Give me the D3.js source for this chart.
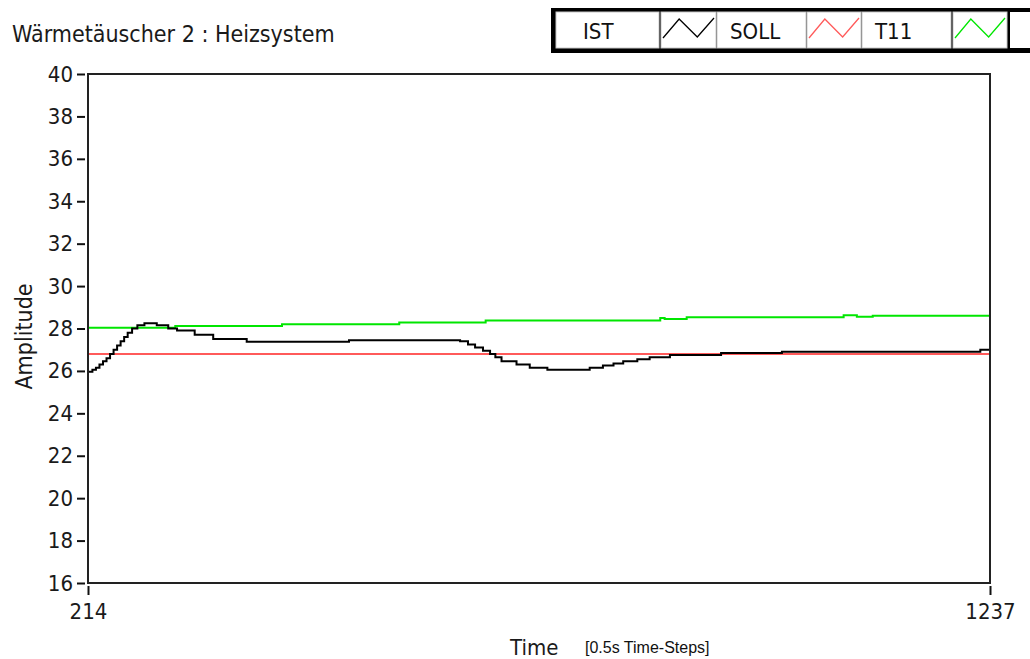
<!DOCTYPE html>
<html>
<head>
<meta charset="utf-8">
<script src="https://cdn.jsdelivr.net/npm/d3@7"></script>
<style>
  html, body { margin: 0; padding: 0; background: #fff; }
  svg { display: block; }
  .cond { font-family: "Liberation Sans Narrow", "DejaVu Sans Condensed", "Roboto Condensed", sans-serif; }
</style>
</head>
<body>
<svg id="chart" width="1030" height="659"></svg>
<script>
// Time steps (0.5 s each) and temperatures of the heat exchanger loop
const istTime  = [214, 219, 223, 227, 231, 235, 239, 243, 247, 251, 255, 259, 264, 270, 278, 292, 305, 315, 335,
                  356, 394, 510, 628, 636, 645, 653, 662, 670, 676, 683, 700, 715, 735, 783, 798, 810, 821, 837,
                  851, 874, 932, 1001, 1226, 1237];
const istValue = [25.96, 26.05, 26.15, 26.3, 26.45, 26.6, 26.8, 27.0, 27.2, 27.4, 27.6, 27.8, 28.0, 28.15,
                  28.25, 28.15, 28.0, 27.9, 27.7, 27.5, 27.38, 27.45, 27.45, 27.4, 27.25, 27.1, 26.95, 26.8,
                  26.65, 26.45, 26.3, 26.15, 26.05, 26.15, 26.25, 26.35, 26.45, 26.55, 26.65, 26.75, 26.85,
                  26.9, 27.0, 27.0];

const sollTime  = [214, 1237];
const sollValue = [26.8, 26.8];

const t11Time  = [214, 313, 434, 567, 665, 863, 868, 893, 1071, 1086, 1104, 1237];
const t11Value = [28.04, 28.12, 28.2, 28.28, 28.38, 28.5, 28.45, 28.53, 28.62, 28.55, 28.6, 28.6];

const xTicks = [214, 1237];
const yTicks = [16, 18, 20, 22, 24, 26, 28, 30, 32, 34, 36, 38, 40];

const seriesNames  = ["IST", "SOLL", "T11"];
const seriesColors = ["#000000", "#ff5a5a", "#00e600"];

const svg = d3.select("#chart");
const plot = { left: 88, right: 990, top: 74, bottom: 583 };

const x = d3.scaleLinear().domain([214, 1237]).range([plot.left, plot.right]);
const y = d3.scaleLinear().domain([16, 40]).range([plot.bottom, plot.top]);

// Title
svg.append("text")
  .attr("class", "cond")
  .attr("x", 12).attr("y", 42)
  .attr("font-size", 23)
  .attr("fill", "#1a1a1a")
  .text("Wärmetäuscher 2 : Heizsystem");

// Plot background
svg.append("rect")
  .attr("x", plot.left).attr("y", plot.top)
  .attr("width", plot.right - plot.left).attr("height", plot.bottom - plot.top)
  .attr("fill", "#fff");

// Y axis
const yAxis = svg.append("g")
  .attr("class", "cond")
  .attr("transform", `translate(${plot.left - 3},0)`)
  .call(d3.axisLeft(y).tickValues(yTicks).tickSize(8).tickPadding(4).tickFormat(d3.format("d")));
yAxis.select(".domain").remove();
yAxis.selectAll(".tick line").attr("stroke", "#111").attr("stroke-width", 2);
yAxis.selectAll(".tick text").attr("font-size", 22).attr("fill", "#1a1a1a")
  .attr("font-family", null);

// X axis
const xAxis = svg.append("g")
  .attr("class", "cond")
  .attr("transform", `translate(0,${plot.bottom + 3})`)
  .call(d3.axisBottom(x).tickValues(xTicks).tickSize(9).tickPadding(8).tickFormat(d3.format("d")));
xAxis.select(".domain").remove();
xAxis.selectAll(".tick line").attr("stroke", "#111").attr("stroke-width", 2);
xAxis.selectAll(".tick text").attr("font-size", 22).attr("fill", "#1a1a1a")
  .attr("font-family", null);

// Axis titles
svg.append("text")
  .attr("class", "cond")
  .attr("transform", `translate(32,${(plot.top + plot.bottom) / 2 + 8}) rotate(-90)`)
  .attr("text-anchor", "middle")
  .attr("font-size", 23)
  .attr("fill", "#1a1a1a")
  .text("Amplitude");

svg.append("text")
  .attr("class", "cond")
  .attr("x", 510).attr("y", 655)
  .attr("font-size", 22)
  .attr("fill", "#1a1a1a")
  .text("Time");

svg.append("text")
  .attr("x", 585).attr("y", 653)
  .attr("font-family", "Liberation Sans, Arial, sans-serif")
  .attr("font-size", 16)
  .attr("fill", "#111")
  .text("[0.5s Time-Steps]");

// Series
svg.append("clipPath").attr("id", "plotClip")
  .append("rect")
  .attr("x", plot.left).attr("y", plot.top)
  .attr("width", plot.right - plot.left).attr("height", plot.bottom - plot.top);

const lineStep = d3.line().x(d => x(d[0])).y(d => y(d[1])).curve(d3.curveStepAfter);
const lineLin  = d3.line().x(d => x(d[0])).y(d => y(d[1]));

const g = svg.append("g").attr("clip-path", "url(#plotClip)");

g.append("path")
  .datum(d3.zip(sollTime, sollValue))
  .attr("d", lineLin)
  .attr("fill", "none").attr("stroke", seriesColors[1]).attr("stroke-width", 2);

g.append("path")
  .datum(d3.zip(t11Time, t11Value))
  .attr("d", lineStep)
  .attr("fill", "none").attr("stroke", seriesColors[2]).attr("stroke-width", 2);

g.append("path")
  .datum(d3.zip(istTime, istValue))
  .attr("d", lineStep)
  .attr("fill", "none").attr("stroke", seriesColors[0]).attr("stroke-width", 2);

// Frame on top
svg.append("rect")
  .attr("x", plot.left).attr("y", plot.top)
  .attr("width", plot.right - plot.left).attr("height", plot.bottom - plot.top)
  .attr("fill", "none").attr("stroke", "#222").attr("stroke-width", 2);

// Legend
const legend = svg.append("g");
legend.append("rect")
  .attr("x", 551).attr("y", 8).attr("width", 520).attr("height", 45)
  .attr("fill", "#000");

const nameCells   = [[556, 103], [717, 89], [862, 89]];
const swatchCells = [[661, 55], [807, 54], [953, 54]];
const textX = [583, 730, 875];

seriesNames.forEach((name, i) => {
  legend.append("rect")
    .attr("x", nameCells[i][0]).attr("y", 12)
    .attr("width", nameCells[i][1]).attr("height", 36)
    .attr("fill", "#fff").attr("stroke", "#c8c8c8").attr("stroke-width", 1);
  legend.append("text")
    .attr("class", "cond")
    .attr("x", textX[i]).attr("y", 39)
    .attr("font-size", 22)
    .attr("fill", "#111")
    .text(name);
  const sx = swatchCells[i][0], sw = swatchCells[i][1];
  legend.append("rect")
    .attr("x", sx).attr("y", 12)
    .attr("width", sw).attr("height", 36)
    .attr("fill", "#fff").attr("stroke", "#c8c8c8").attr("stroke-width", 1);
  legend.append("polyline")
    .attr("points", [[sx + 2, 38], [sx + sw * 0.33, 19], [sx + sw * 0.66, 37], [sx + sw - 2, 18]].map(p => p.join(",")).join(" "))
    .attr("fill", "none").attr("stroke", seriesColors[i]).attr("stroke-width", 1.3);
});
legend.append("rect")
  .attr("x", 1010).attr("y", 12).attr("width", 40).attr("height", 36)
  .attr("fill", "#fff");
</script>
</body>
</html>
